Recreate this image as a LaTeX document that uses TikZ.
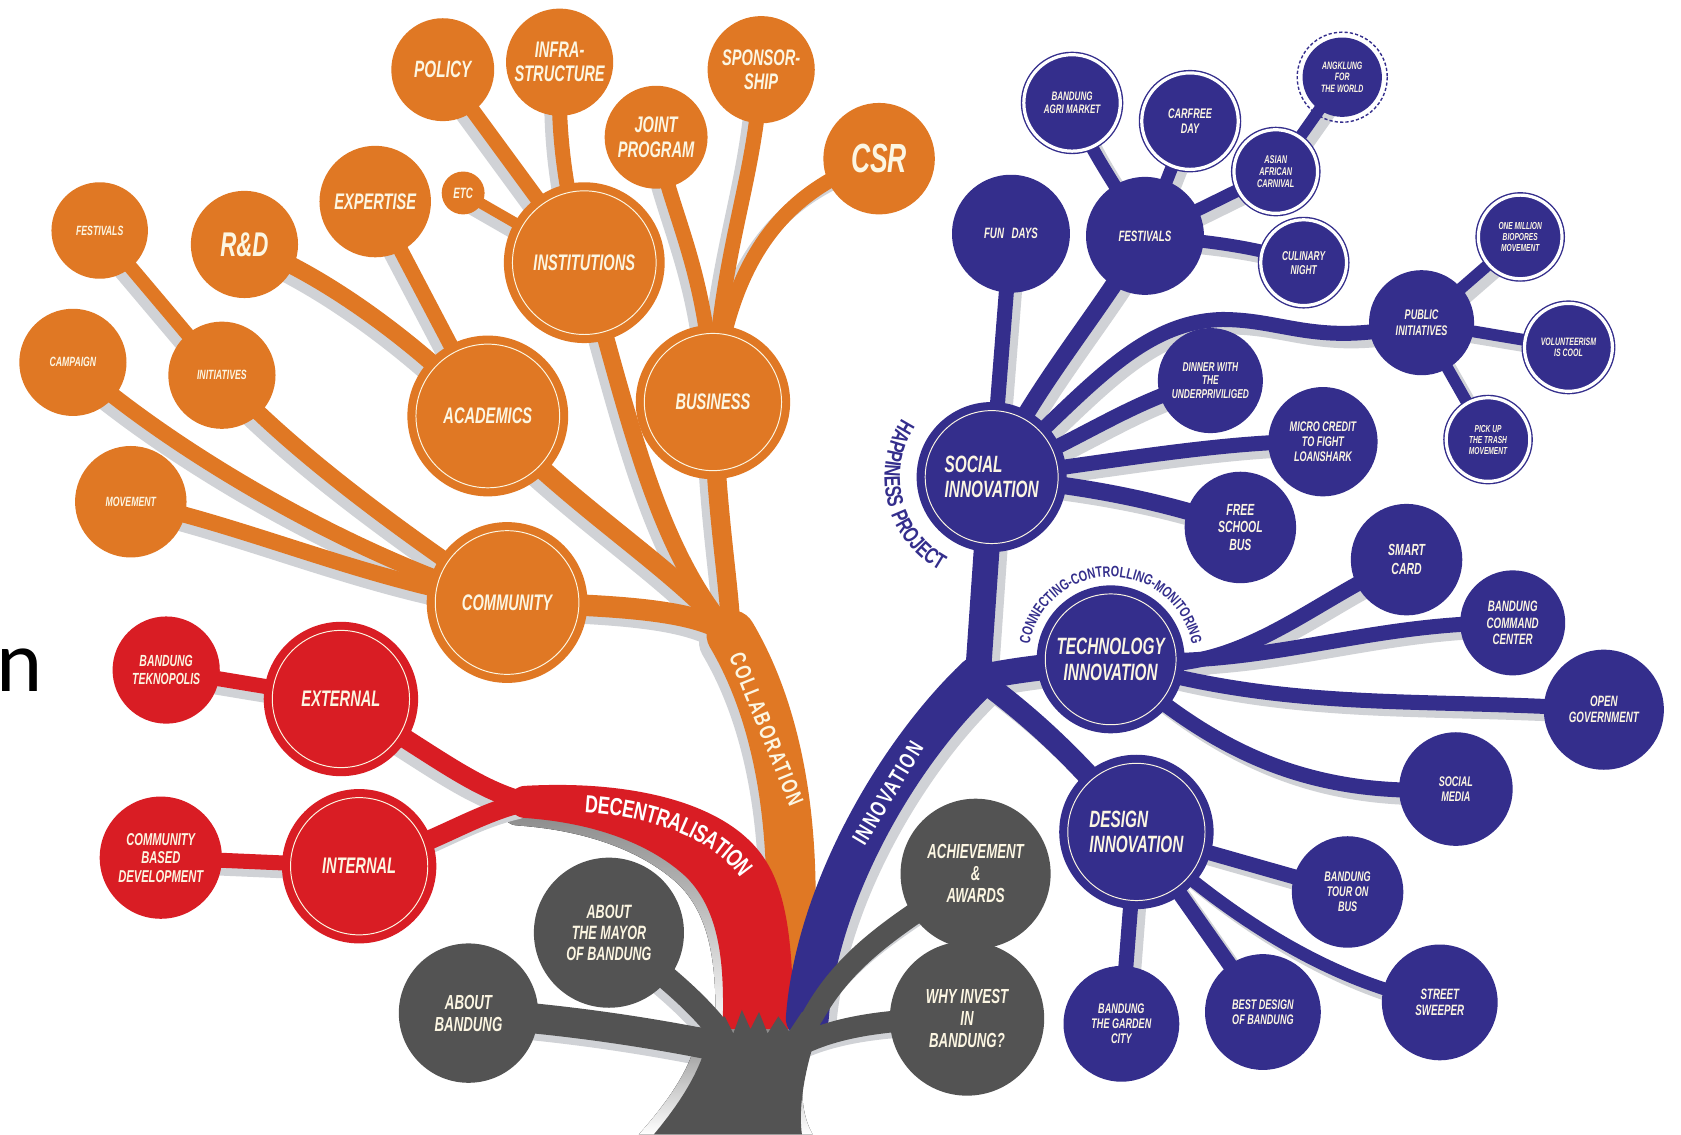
\documentclass[tikz,border=0pt]{standalone}
\usepackage{fontspec}
\usetikzlibrary{decorations.text}
\newfontfamily\tf{Liberation Sans}[FakeStretch=0.65]
\newfontfamily\tfw{Liberation Sans}[FakeStretch=0.72,LetterSpace=8]
\newfontfamily\nfont{Carlito}
\newcommand\tfb{\tf\bfseries\itshape}
\newcommand\tfl{\tf\bfseries\itshape}
\newcommand\tfwb{\tfw\bfseries}
\newcommand\fsz[1]{\pgfmathsetmacro\myskip{#1*1.08}\fontsize{#1}{\myskip}\selectfont}
\definecolor{ocol}{RGB}{224,120,36}
\definecolor{rcol}{RGB}{217,29,36}
\definecolor{bcol}{RGB}{52,46,140}
\definecolor{gcol}{RGB}{83,83,83}
\definecolor{shade}{RGB}{208,210,214}
\definecolor{cream}{RGB}{252,246,226}
\pgfdeclarelayer{back}\pgfdeclarelayer{shl}\pgfdeclarelayer{brl}
\pgfsetlayers{back,shl,brl,main}
\newcommand\limb[3]{%
 \begin{pgfonlayer}{shl}\begin{scope}[#2]\draw[line cap=round,#1,draw=shade] #3;\end{scope}\end{pgfonlayer}%
 \begin{pgfonlayer}{brl}\draw[line cap=round,#1] #3;\end{pgfonlayer}}
\newcommand\redlimbpath{(490,733) .. controls (580,728) and (660,745) .. (700,785) .. controls (730,815) and (740,860) .. (740,960) -- (674,960) .. controls (676,900) and (672,850) .. (640,818) .. controls (610,790) and (560,768) .. (490,763) -- cycle (rfork) circle[radius=15]}
\tikzset{
 osh/.style={transform canvas={shift={(-7pt,-7pt)}}},
 bsh/.style={transform canvas={shift={(7pt,-7pt)}}},
 gsh/.style={transform canvas={shift={(-5pt,-6pt)}}},
 nd/.style={circle, inner sep=0pt, align=center, text=cream},
 rad/.style={minimum size={2*#1}},
 fs/.style={font={\tfb\fsz{#1}}},
 fsl/.style={font={\tfl\fsz{#1}}},
 oc/.style={nd, fill=ocol}, rc/.style={nd, fill=rcol},
 bc/.style={nd, fill=bcol}, gc/.style={nd, fill=gcol},
 ringd/.style={draw=bcol, line width=1.3pt, double=white, double distance=3pt},
 bigc/.style={rad=#1, path picture={\draw[cream, line width=0.9pt] (path picture bounding box.center) circle[radius={#1pt-8pt}];}},
}
\begin{document}
\begin{tikzpicture}[x=1pt,y=-1pt]
\useasboundingbox (0,0) rectangle (1568,1058);
\begin{pgfonlayer}{back}\fill[white] (0,0) rectangle (1568,1058);\end{pgfonlayer}

% ---------- orange nodes
\node[oc,rad=48,fs=22] (pol) at (413,65) {POLICY};
\node[oc,rad=50,fs=21] (inf) at (522,58) {INFRA-\\STRUCTURE};
\node[oc,rad=50,fs=21] (spo) at (710,65) {SPONSOR-\\SHIP};
\node[oc,rad=48,fs=21] (joi) at (612,128) {JOINT\\PROGRAM};
\node[oc,rad=52,fs=38] (csr) at (820,148) {CSR};
\node[oc,rad=52,fs=21] (exp) at (350,188) {EXPERTISE};
\node[oc,rad=20,fs=14] (etc) at (432,180) {ETC};
\node[oc,bigc=75,fs=21] (ins) at (545,245) {INSTITUTIONS};
\node[oc,rad=50,fs=32] (rd) at (228,228) {R\&D};
\node[oc,rad=45,fsl=12.5] (fes) at (93,215) {FESTIVALS};
\node[oc,rad=50,fsl=12.5] (ini) at (207,350) {INITIATIVES};
\node[oc,rad=50,fsl=12.5] (cam) at (68,338) {CAMPAIGN};
\node[oc,bigc=75,fs=21] (aca) at (455,388) {ACADEMICS};
\node[oc,bigc=72,fs=21] (bus) at (665,375) {BUSINESS};
\node[oc,rad=52,fsl=12.5] (mov) at (122,468) {MOVEMENT};
\node[oc,bigc=75,fs=21] (com) at (473,562) {COMMUNITY};
% ---------- red nodes
\node[rc,rad=50,fs=15] (tek) at (155,625) {BANDUNG\\TEKNOPOLIS};
\node[rc,bigc=72,fs=21] (ext) at (318,652) {EXTERNAL};
\node[rc,rad=57,fs=16] (cbd) at (150,800) {COMMUNITY\\BASED\\DEVELOPMENT};
\node[rc,bigc=72,fs=21] (int) at (335,808) {INTERNAL};
% ---------- gray nodes
\node[gc,rad=65,fs=19] (abb) at (437,945) {ABOUT\\BANDUNG};
\node[gc,rad=70,fs=18] (may) at (568,870) {ABOUT\\THE MAYOR\\OF BANDUNG};
\node[gc,rad=70,fs=19] (ach) at (910,815) {ACHIEVEMENT\\\&\\AWARDS};
\node[gc,rad=72,fs=19] (why) at (902,950) {WHY INVEST\\IN\\BANDUNG?};
% ---------- blue nodes
\node[bc,rad=55,fs=14] (fun) at (943,218) {FUN\enspace DAYS};
\node[bc,rad=45,ringd,fs=11.5] (agr) at (1000,96) {BANDUNG\\AGRI MARKET};
\node[bc,rad=45,ringd,fs=13] (car) at (1110,113) {CARFREE\\DAY};
\node[bc,rad=55,fs=14] (fsb) at (1068,220) {FESTIVALS};
\node[bc,rad=39,ringd,fs=10.5] (asi) at (1190,160) {ASIAN\\AFRICAN\\CARNIVAL};
\node[bc,rad=37,fs=10] (ang) at (1252,72) {ANGKLUNG\\FOR\\THE WORLD};
\draw[bcol, line width=1.3pt, dash pattern=on 3pt off 2pt] (ang.center) circle[radius=42];
\node[bc,rad=40,ringd,fs=12] (cul) at (1216,245) {CULINARY\\NIGHT};
\node[bc,rad=49,fs=13] (pub) at (1326,301) {PUBLIC\\INITIATIVES};
\node[bc,rad=39,ringd,fs=9.5] (one) at (1418,221) {ONE MILLION\\BIOPORES\\MOVEMENT};
\node[bc,rad=41,ringd,fs=10] (vol) at (1463,324) {VOLUNTEERISM\\IS COOL};
\node[bc,rad=39,ringd,fs=9.5] (pic) at (1388,410) {PICK UP\\THE TRASH\\MOVEMENT};
\node[bc,rad=49,fs=12] (din) at (1129,355) {DINNER WITH\\THE\\UNDERPRIVILIGED};
\node[bc,rad=51,fs=13] (mic) at (1234,412) {MICRO CREDIT\\TO FIGHT\\LOANSHARK};
\node[bc,rad=52,fs=15] (fsc) at (1157,492) {FREE\\SCHOOL\\BUS};
\node[bc,bigc=70,fs=22,align=left] (si) at (925,445) {SOCIAL\\INNOVATION};
\node[bc,rad=52,fs=15] (sma) at (1312,522) {SMART\\[2pt]CARD};
\node[bc,rad=49,fs=14] (bcc) at (1411,581) {BANDUNG\\COMMAND\\CENTER};
\node[bc,rad=56,fs=14] (opn) at (1496,662) {OPEN\\GOVERNMENT};
\node[bc,bigc=69,fs=22] (ti) at (1036,615) {TECHNOLOGY\\INNOVATION};
\node[bc,rad=53,fs=13] (som) at (1358,736) {SOCIAL\\MEDIA};
\node[bc,bigc=72,fs=22,align=left] (di) at (1060,776) {DESIGN\\INNOVATION};
\node[bc,rad=52,fs=13] (tob) at (1257,832) {BANDUNG\\TOUR ON\\BUS};
\node[bc,rad=54,fs=13] (gar) at (1046,955) {BANDUNG\\THE GARDEN\\CITY};
\node[bc,rad=54,fs=13] (bes) at (1178,944) {BEST DESIGN\\OF BANDUNG};
\node[bc,rad=54,fs=14] (str) at (1343,935) {STREET\\SWEEPER};

% ---------- free ends
\coordinate (ot) at (735,905);
\coordinate (ofork) at (682,592);
\coordinate (rfork) at (490,748);
\coordinate (bt) at (753,950);
\coordinate (bfork) at (912,632);
\coordinate (pubmid) at (1140,298);
\coordinate (g1) at (665,975);
\coordinate (g2) at (668,958);
\coordinate (g3) at (758,948);
\coordinate (g4) at (752,972);

% ---------- orange branches
\limb{ocol,line width=46}{osh}{(ot) .. controls (742,820) and (740,690) .. (ofork)}
\limb{ocol,line width=20}{osh}{(com.center) .. controls (590,565) and (650,570) .. (ofork)}
\limb{ocol,line width=18}{osh}{(aca.center) .. controls (530,470) and (630,530) .. (ofork)}
\limb{ocol,line width=16}{osh}{(ins.center) .. controls (585,380) and (610,510) .. (ofork)}
\limb{ocol,line width=18}{osh}{(bus.center) .. controls (668,480) and (680,540) .. (ofork)}
\limb{ocol,line width=14}{osh}{(ins.center) -- (pol.center)}
\limb{ocol,line width=14}{osh}{(ins.center) .. controls (525,170) and (520,120) .. (inf.center)}
\limb{ocol,line width=10}{osh}{(ins.center) -- (etc.center)}
\limb{ocol,line width=14}{osh}{(aca.center) -- (exp.center)}
\limb{ocol,line width=16}{osh}{(aca.center) .. controls (380,310) and (290,250) .. (rd.center)}
\limb{ocol,line width=13}{osh}{(ini.center) -- (fes.center)}
\limb{ocol,line width=15}{osh}{(com.center) .. controls (380,500) and (270,420) .. (ini.center)}
\limb{ocol,line width=15}{osh}{(com.center) .. controls (330,520) and (160,420) .. (cam.center)}
\limb{ocol,line width=15}{osh}{(com.center) .. controls (350,545) and (230,490) .. (mov.center)}
\limb{ocol,line width=14}{osh}{(bus.center) .. controls (660,250) and (625,200) .. (joi.center)}
\limb{ocol,line width=14}{osh}{(bus.center) .. controls (672,230) and (705,170) .. (spo.center)}
\limb{ocol,line width=14}{osh}{(bus.center) .. controls (680,230) and (740,175) .. (csr.center)}

% ---------- red branches (tapered ribbon)
\begin{pgfonlayer}{shl}\begin{scope}[osh]\fill[shade] \redlimbpath;\end{scope}\end{pgfonlayer}
\begin{pgfonlayer}{brl}\fill[rcol] \redlimbpath;\end{pgfonlayer}
\limb{rcol,line width=18}{osh}{(rfork) .. controls (440,735) and (400,700) .. (ext.center)}
\limb{rcol,line width=18}{osh}{(rfork) .. controls (440,760) and (410,785) .. (int.center)}
\limb{rcol,line width=14}{osh}{(ext.center) -- (tek.center)}
\limb{rcol,line width=14}{osh}{(int.center) -- (cbd.center)}

% ---------- blue branches
\limb{bcol,line width=40}{bsh}{(bt) .. controls (762,830) and (840,700) .. (bfork)}
\limb{bcol,line width=24}{bsh}{(bfork) -- (si.center)}
\limb{bcol,line width=24}{bsh}{(bfork) .. controls (950,625) .. (ti.center)}
\limb{bcol,line width=20}{bsh}{(bfork) .. controls (950,660) and (1000,700) .. (di.center)}
\limb{bcol,line width=14}{bsh}{(si.center) -- (fun.center)}
\limb{bcol,line width=16}{bsh}{(si.center) .. controls (965,360) and (1020,300) .. (fsb.center)}
\limb{bcol,line width=14}{bsh}{(si.center) .. controls (1010,370) and (1060,300) .. (pubmid) .. controls (1200,298) and (1230,325) .. (pub.center)}
\limb{bcol,line width=14}{bsh}{(si.center) .. controls (1010,410) and (1060,370) .. (din.center)}
\limb{bcol,line width=14}{bsh}{(si.center) .. controls (1040,430) and (1150,410) .. (mic.center)}
\limb{bcol,line width=16}{bsh}{(si.center) .. controls (1030,455) and (1090,470) .. (fsc.center)}
\limb{bcol,line width=12}{bsh}{(fsb.center) .. controls (1040,170) and (1015,140) .. (agr.center)}
\limb{bcol,line width=12}{bsh}{(fsb.center) -- (car.center)}
\limb{bcol,line width=12}{bsh}{(fsb.center) -- (asi.center)}
\limb{bcol,line width=12}{bsh}{(fsb.center) .. controls (1130,225) and (1170,230) .. (cul.center)}
\limb{bcol,line width=11}{bsh}{(asi.center) -- (ang.center)}
\limb{bcol,line width=11}{bsh}{(pub.center) -- (one.center)}
\limb{bcol,line width=11}{bsh}{(pub.center) -- (vol.center)}
\limb{bcol,line width=11}{bsh}{(pub.center) -- (pic.center)}
\limb{bcol,line width=14}{bsh}{(ti.center) .. controls (1150,640) and (1220,560) .. (sma.center)}
\limb{bcol,line width=14}{bsh}{(ti.center) .. controls (1180,625) and (1270,580) .. (bcc.center)}
\limb{bcol,line width=14}{bsh}{(ti.center) .. controls (1200,665) and (1320,650) .. (opn.center)}
\limb{bcol,line width=14}{bsh}{(ti.center) .. controls (1130,700) and (1220,745) .. (som.center)}
\limb{bcol,line width=14}{bsh}{(di.center) -- (tob.center)}
\limb{bcol,line width=12}{bsh}{(di.center) .. controls (1150,860) and (1250,920) .. (str.center)}
\limb{bcol,line width=14}{bsh}{(di.center) -- (bes.center)}
\limb{bcol,line width=14}{bsh}{(di.center) -- (gar.center)}

% ---------- gray branches and trunk
\limb{gcol,line width=28}{gsh}{(g1) .. controls (600,962) and (520,950) .. (abb.center)}
\limb{gcol,line width=22}{gsh}{(g2) .. controls (645,930) and (615,905) .. (may.center)}
\limb{gcol,line width=20}{gsh}{(g3) .. controls (790,890) and (840,860) .. (ach.center)}
\limb{gcol,line width=20}{gsh}{(g4) .. controls (790,955) and (840,950) .. (why.center)}
\begin{pgfonlayer}{shl}
\fill[shade] (596,1058) .. controls (628,1022) and (648,990) .. (652,958) -- (760,950) .. controls (748,990) and (742,1030) .. (758,1058) -- cycle;
\end{pgfonlayer}
\begin{pgfonlayer}{brl}
\fill[gcol] (610,1058) .. controls (640,1022) and (658,990) .. (662,958) -- (676,948) -- (684,964) -- (692,942) -- (700,960) -- (708,944) -- (716,964) -- (726,948) -- (736,962) -- (748,944) -- (772,938) .. controls (752,985) and (744,1030) .. (748,1058) -- cycle;
\end{pgfonlayer}

% ---------- ribbon labels
\node[rotate=-68, text=cream, font={\tfwb\fsz{21}}] (lcol) at (715,680) {COLLABORATION};
\node[rotate=59, text=white, font={\tfwb\fsz{21}}] (linn) at (828,740) {INNOVATION};
\path[decorate, decoration={text along path, text={|\tfwb\fsz{23}|DECENTRALISATION}, text align=left, text color=white, raise=-8pt}]
  (546,750) .. controls (610,754) and (660,774) .. (688,803) .. controls (708,826) and (716,850) .. (716,900);
\path[decorate, decoration={text along path, text={|\tfwb\fsz{21}|HAPPINESS PROJECT}, text align=center, text color=bcol}]
  ([shift={(-132:100)}]si.center) arc[start angle=-132, end angle=-256, radius=100];
\path[decorate, decoration={text along path, text={|\tfwb\fsz{14}|CONNECTING-CONTROLLING-MONITORING}, text align=center, text color=bcol}]
  ([shift={(-179:77)}]ti.center) arc[start angle=-179, end angle=-1, radius=77];

% ---------- stray letter at left edge
\node[anchor=base west, inner sep=0pt, text=black, font={\nfont\fontsize{82}{82}\selectfont}] (nch) at (-3,645) {n};
\end{tikzpicture}
\end{document}
